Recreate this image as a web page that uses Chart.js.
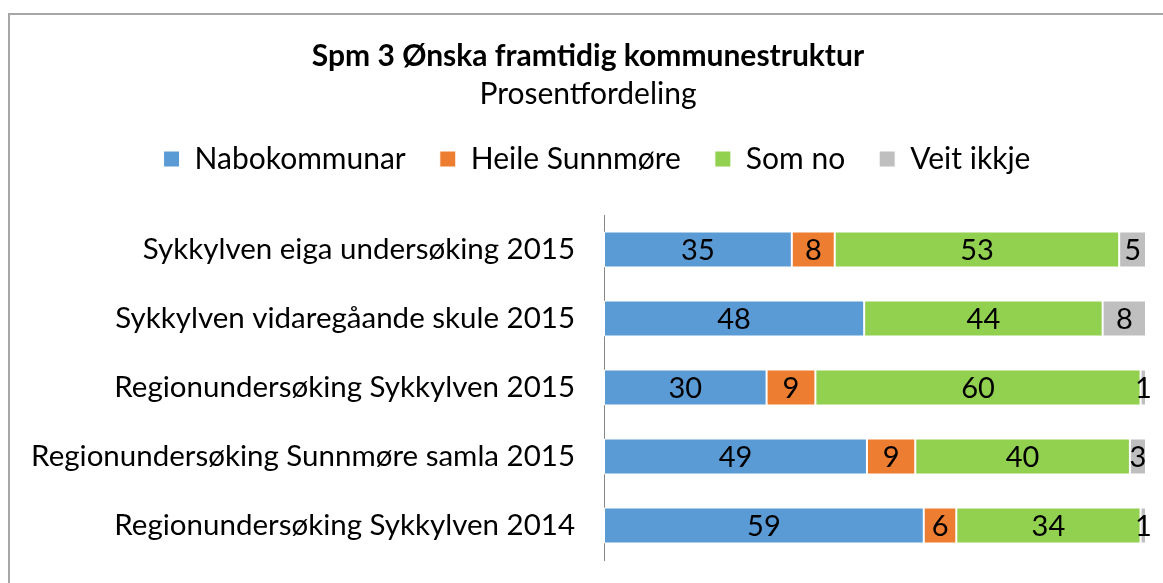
<!DOCTYPE html>
<html>
<head>
<meta charset="utf-8">
<script src="https://cdn.jsdelivr.net/npm/chart.js@4"></script>
<style>
  html, body { margin: 0; padding: 0; background: #fff; overflow: hidden; }
  #wrap { position: relative; width: 1163px; height: 583px; }
  #frame { position: absolute; left: 8px; top: 13px; width: 1200px; height: 600px; border: 2px solid #a6a6a6; }
  canvas { position: absolute; left: 0; top: 0; }
</style>
</head>
<body>
<div id="wrap">
  <div id="frame"></div>
  <canvas id="graf" width="1163" height="583"></canvas>
</div>
<script>
// Dados
const kategoriar = [
  "Sykkylven eiga undersøking 2015",
  "Sykkylven vidaregåande skule 2015",
  "Regionundersøking Sykkylven 2015",
  "Regionundersøking Sunnmøre samla 2015",
  "Regionundersøking Sykkylven 2014"
];
const nabokommunar = [35, 48, 30, 49, 59];
const heileSunnmore = [8, 0, 9, 9, 6];
const somNo = [53, 44, 60, 40, 34];
const veitIkkje = [5, 8, 1, 3, 1];

const FONT = "Lato";

// 100 % stabla: normaliser kvar rad
const seriar = [nabokommunar, heileSunnmore, somNo, veitIkkje];
const sum = kategoriar.map((_, i) => seriar.reduce((s, a) => s + a[i], 0));
const pst = arr => arr.map((v, i) => v / sum[i] * 100);

const etikettar = {
  id: "etikettar",
  afterDatasetsDraw(chart) {
    const ctx = chart.ctx;
    ctx.save();
    ctx.font = "29px " + FONT;
    ctx.fillStyle = "#000";
    ctx.textAlign = "center";
    ctx.textBaseline = "middle";
    chart.data.datasets.forEach((ds, di) => {
      const meta = chart.getDatasetMeta(di);
      meta.data.forEach((el, i) => {
        const v = ds.rawValues[i];
        if (!v) return;
        ctx.fillText(String(v), (el.x + el.base) / 2, el.y + 1);
      });
    });
    ctx.restore();
  }
};

// ekstra luft under forklaringa, og flytt ho litt mot høgre
const forklaring = {
  id: "forklaring",
  beforeInit(chart) {
    const lg = chart.legend;
    const fit = lg.fit;
    lg.fit = function () { fit.call(this); this.height += 31; };
  },
  afterLayout(chart) {
    chart.legend.left += 9;
    chart.legend.right += 9;
  }
};

new Chart(document.getElementById("graf"), {
  type: "bar",
  data: {
    labels: kategoriar,
    datasets: [
      { label: "Nabokommunar", data: pst(nabokommunar), rawValues: nabokommunar, backgroundColor: "#5B9BD5" },
      { label: "Heile Sunnmøre", data: pst(heileSunnmore), rawValues: heileSunnmore, backgroundColor: "#ED7D31" },
      { label: "Som no", data: pst(somNo), rawValues: somNo, backgroundColor: "#92D050" },
      { label: "Veit ikkje", data: pst(veitIkkje), rawValues: veitIkkje, backgroundColor: "#BFBFBF" }
    ]
  },
  options: {
    indexAxis: "y",
    responsive: false,
    animation: false,
    layout: { autoPadding: false, padding: { left: 30, right: 17, top: 38, bottom: 23 } },
    datasets: { bar: { categoryPercentage: 0.52, barPercentage: 1, borderColor: "#ffffff", borderWidth: 1, borderSkipped: false } },
    scales: {
      x: { stacked: true, min: 0, max: 100, display: false, afterFit(scale) { scale.height = 0; } },
      y: {
        stacked: true,
        grid: { display: false, drawTicks: false },
        border: { display: true, color: "#868686", width: 1 },
        ticks: { color: "#000", padding: 29, font: { family: FONT, size: 29.5 } },
        afterFit(scale) { scale.width = 574; scale.paddingTop = 0; scale.paddingBottom = 0; }
      }
    },
    plugins: {
      title: { display: true, text: "Spm 3 Ønska framtidig kommunestruktur", color: "#000", font: { family: FONT, size: 30, weight: "bold" }, padding: { top: 0, bottom: 2 } },
      subtitle: { display: true, text: "Prosentfordeling", color: "#000", font: { family: FONT, size: 30 }, padding: { bottom: -2 } },
      legend: {
        position: "top",
        labels: { color: "#000", boxWidth: 16, boxHeight: 16, padding: 34, font: { family: FONT, size: 30 } }
      },
      tooltip: { enabled: false }
    }
  },
  plugins: [etikettar, forklaring]
});
</script>
</body>
</html>
